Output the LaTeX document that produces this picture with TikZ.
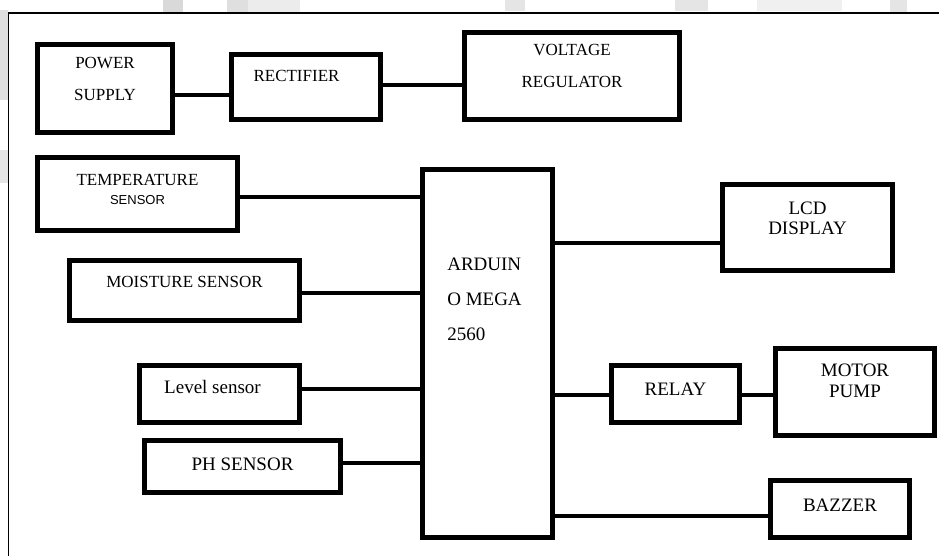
\documentclass[tikz,border=0pt]{standalone}
\usepackage{fontspec}
\setmainfont{Liberation Serif}
\setsansfont{Liberation Sans}
\usepackage{tikz}
\usetikzlibrary{positioning, calc}

\tikzset{
	blk/.style={draw, line width=5pt, inner sep=0pt},
	lbl/.style={align=center, font=\fontsize{17}{32}\selectfont},
	lblb/.style={align=center, font=\fontsize{19}{20}\selectfont},
	link/.style={line width=4.5pt},
}

\begin{document}
\begin{tikzpicture}[x=1pt, y=-1pt]
	\useasboundingbox (0,0) rectangle (939,556);
	\fill[white] (0,0) rectangle (939,556);
	% faint marks along the top and left edges
	\fill[gray!30] (163,0) rectangle (183,12);
	\fill[gray!25] (227,0) rectangle (248,12);
	\fill[gray!15] (248,0) rectangle (300,12);
	\fill[gray!20] (505,0) rectangle (525,11);
	\fill[gray!20] (675,0) rectangle (708,11);
	\fill[gray!12] (757,0) rectangle (842,11);
	\fill[gray!20] (890,0) rectangle (907,12);
	\fill[gray!25] (0,10) rectangle (8,100);
	\fill[gray!20] (0,150) rectangle (8,183);
	\draw[line width=1.3pt] (8.5,556) -- (8.5,13) -- (939,13);

	\node[blk, minimum width=135pt, minimum height=88pt, label={[lbl, yshift=9.5pt]center:{POWER\\SUPPLY}}] (power) at (105,88.5) {};
	\node[blk, minimum width=149pt, minimum height=65pt, label={[lbl, xshift=-9.5pt, yshift=11.5pt]center:RECTIFIER}] (rect) at (306,87) {};
	\node[blk, minimum width=215pt, minimum height=87pt, label={[lbl, yshift=10pt]center:{VOLTAGE\\REGULATOR}}] (volt) at (572,76) {};
	\node[blk, minimum width=200pt, minimum height=73pt, label={[lbl, font=\fontsize{17}{19}\selectfont, yshift=5pt]center:{TEMPERATURE\\{\sffamily\fontsize{13}{15}\selectfont SENSOR}}}] (temp) at (137.5,194) {};
	\node[blk, minimum width=230pt, minimum height=60pt, label={[lbl, yshift=8.5pt]center:MOISTURE SENSOR}] (moist) at (184.5,290.5) {};
	\node[blk, minimum width=160pt, minimum height=57pt, label={[lblb, xshift=-7pt, yshift=7.5pt]center:Level sensor}] (level) at (219.5,394) {};
	\node[blk, minimum width=196pt, minimum height=52pt, label={[lblb, yshift=2pt]center:PH SENSOR}] (ph) at (242.5,466.5) {};
	\node[blk, minimum width=130pt, minimum height=368pt, label={[lblb, align=left, font=\fontsize{19}{35}\selectfont, xshift=-3pt, yshift=54.5pt]center:{ARDUIN\\O MEGA\\2560}}] (ard) at (487.5,353.5) {};
	\node[blk, minimum width=170pt, minimum height=86pt, label={[lblb, yshift=9pt]center:{LCD\\DISPLAY}}] (lcd) at (807.5,227.5) {};
	\node[blk, minimum width=128pt, minimum height=57pt, label={[lblb, yshift=4.5pt]center:RELAY}] (relay) at (675.5,394) {};
	\node[blk, minimum width=159pt, minimum height=87pt, label={[lblb, font=\fontsize{19}{21}\selectfont, yshift=11.5pt]center:{MOTOR\\PUMP}}] (motor) at (855,392) {};
	\node[blk, minimum width=139pt, minimum height=57pt, label={[lblb, yshift=3.5pt]center:BAZZER}] (bazzer) at (840,509) {};

	\draw[link] (power.east |- 0,95) -- (rect.west |- 0,95);
	\draw[link] (rect.east |- 0,85) -- (volt.west |- 0,85);
	\draw[link] (temp.east |- 0,197) -- (ard.west |- 0,197);
	\draw[link] (moist.east |- 0,293) -- (ard.west |- 0,293);
	\draw[link] (level.east |- 0,389) -- (ard.west |- 0,389);
	\draw[link] (ph.east |- 0,463) -- (ard.west |- 0,463);
	\draw[link] (ard.east |- 0,243) -- (lcd.west |- 0,243);
	\draw[link] (ard.east |- 0,395) -- (relay.west |- 0,395);
	\draw[link] (relay.east |- 0,395) -- (motor.west |- 0,395);
	\draw[link] (ard.east |- 0,516) -- (bazzer.west |- 0,516);
\end{tikzpicture}
\end{document}
